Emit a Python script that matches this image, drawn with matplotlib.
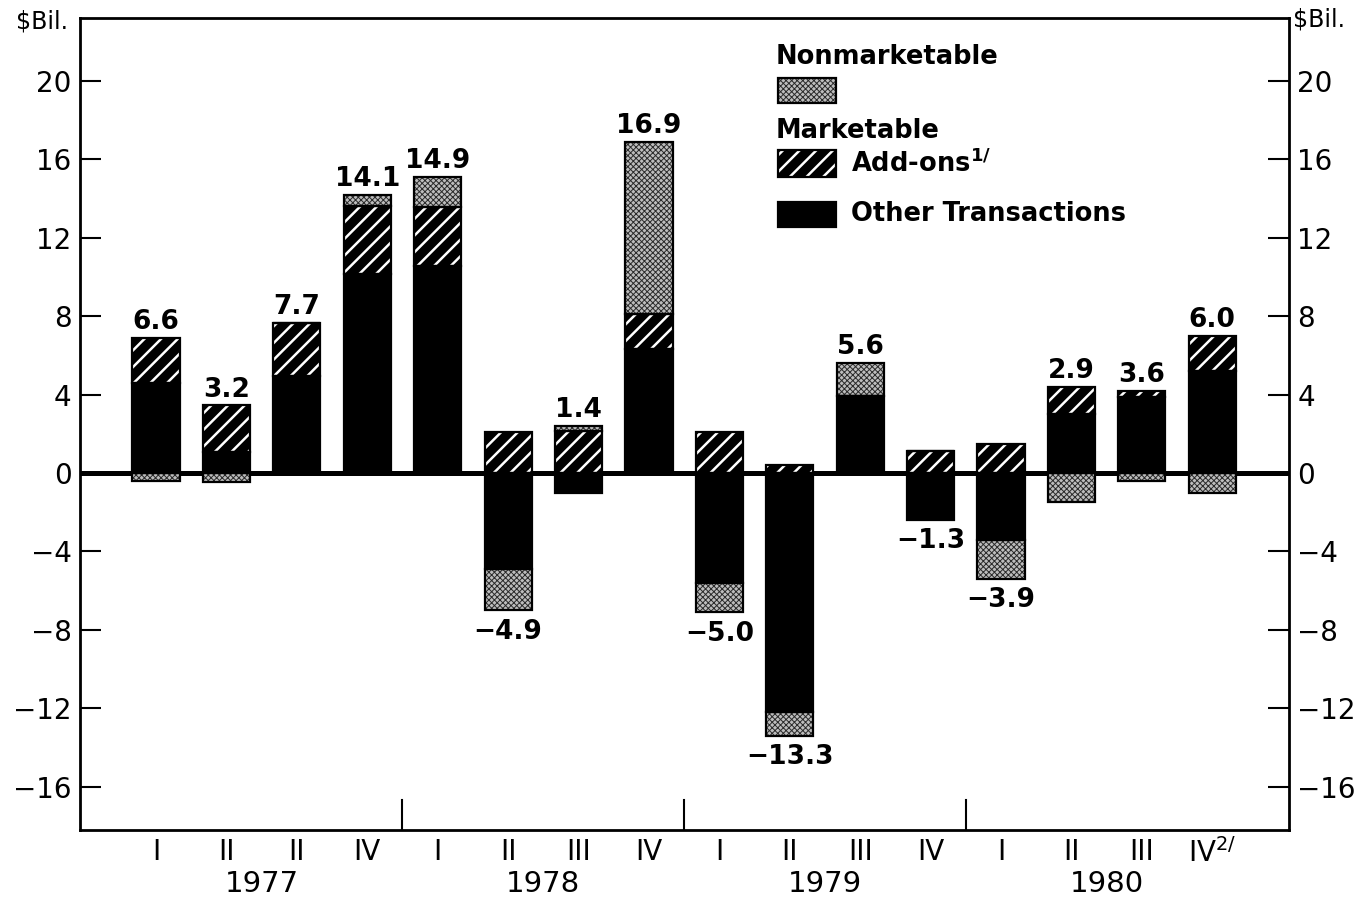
import numpy as np
import matplotlib.pyplot as plt
from matplotlib.patches import Rectangle

plt.rcParams['font.family'] = ['DejaVu Sans']
plt.rcParams['hatch.linewidth'] = 1.8

# quarters (the 1977 third quarter is printed "II" in the original)
quarters = ['I', 'II', 'II', 'IV', 'I', 'II', 'III', 'IV',
            'I', 'II', 'III', 'IV', 'I', 'II', 'III', r'IV$^{2/}$']
years = ['1977', '1978', '1979', '1980']

# $ billions
other = [4.6, 1.05, 4.95, 10.15, 10.55, -4.9, -1.0, 6.3,
         -5.6, -12.2, 3.95, -2.4, -3.4, 3.0, 3.9, 5.2]
addons = [2.3, 2.4, 2.7, 3.45, 3.0, 2.1, 2.15, 1.8,
          2.1, 0.4, 0.0, 1.1, 1.5, 1.4, 0.3, 1.8]
nonmkt = [-0.4, -0.45, 0.0, 0.6, 1.55, -2.1, 0.25, 8.8,
          -1.5, -1.2, 1.65, 0.0, -2.0, -1.5, -0.4, -1.0]
totals = [6.6, 3.2, 7.7, 14.1, 14.9, -4.9, 1.4, 16.9,
          -5.0, -13.3, 5.6, -1.3, -3.9, 2.9, 3.6, 6.0]

W, H = 1358, 899
fig = plt.figure(figsize=(W / 100, H / 100), dpi=100)
ax = fig.add_axes([80 / W, 1 - 830 / H, (1289 - 80) / W, (830 - 18) / H])

x = np.arange(len(quarters))
width = 0.67
STIP = dict(facecolor='#bdbdbd', hatch='xxxxxx', edgecolor='#2a2a2a')

# zero line under the bars
ax.axhline(0, color='black', lw=3.6, zorder=1)

pos_base = np.zeros(len(x))
neg_base = np.zeros(len(x))
styles = [dict(facecolor='black', hatch=None, edgecolor='black'),
          dict(facecolor='black', hatch='//', edgecolor='white'),
          STIP]
for vals, st in zip([other, addons, nonmkt], styles):
    v = np.array(vals)
    bottom = np.where(v >= 0, pos_base, neg_base)
    lw_h = 0.7 if st is STIP else 1.8
    with plt.rc_context({'hatch.linewidth': lw_h}):
        ax.bar(x, v, width, bottom=bottom, lw=0, zorder=2, **st)
    ax.bar(x, v, width, bottom=bottom, fill=False, edgecolor='black', lw=1.6, zorder=3)
    pos_base += np.clip(v, 0, None)
    neg_base += np.clip(v, None, 0)

# value labels
for i, t in enumerate(totals):
    txt = f'{t:.1f}'.replace('-', '\u2212')
    if t >= 0:
        ax.annotate(txt, (x[i], pos_base[i]), xytext=(0, 2), textcoords='offset points',
                    ha='center', va='bottom', fontsize=19, fontweight='bold')
    else:
        ax.annotate(txt, (x[i], neg_base[i]), xytext=(0, -6), textcoords='offset points',
                    ha='center', va='top', fontsize=19, fontweight='bold')

ax.set_xlim(-1.08, 16.09)
ax.set_ylim(-18.2, 23.2)
ax.set_yticks(np.arange(-16, 21, 4))
ax.tick_params(axis='y', which='both', direction='in', length=15, width=1.5,
               labelsize=20, left=True, right=True, labelleft=True, labelright=True, pad=6)
ax.set_xticks(x)
ax.set_xticklabels(quarters)
ax.tick_params(axis='x', length=0, labelsize=20, pad=6)
for s in ax.spines.values():
    s.set_linewidth(2)

# year separators and year labels
for b in [3.5, 7.5, 11.5]:
    ax.axvline(b, ymin=0, ymax=30 / 812, color='black', lw=1.5)
for k, yr in enumerate(years):
    ax.text(4 * k + 1.5, (830 - 884) / 812, yr, transform=ax.get_xaxis_transform(),
            ha='center', va='center', fontsize=21)

# unit labels
fig.text(68 / W, 1 - 22 / H, '$Bil.', ha='right', va='center', fontsize=17)
fig.text(1293 / W, 1 - 20 / H, '$Bil.', ha='left', va='center', fontsize=17)


# legend drawn by hand to keep the original layout
def px(xp, yp):
    return xp / W, 1 - yp / H


def patch(x0, y0, x1, y1, **kw):
    r = Rectangle(px(x0, y1), (x1 - x0) / W, (y1 - y0) / H,
                  transform=fig.transFigure, **kw)
    fig.add_artist(r)


fig.text(*px(776, 57), 'Nonmarketable', ha='left', va='center', fontsize=18.5, fontweight='bold')
with plt.rc_context({'hatch.linewidth': 0.7}):
    patch(778, 78, 836, 103, lw=0, **STIP)
patch(778, 78, 836, 103, fill=False, edgecolor='black', lw=1.6)
fig.text(*px(776, 131), 'Marketable', ha='left', va='center', fontsize=18.5, fontweight='bold')
patch(778, 150, 836, 177, facecolor='black', hatch='//', edgecolor='white', lw=0)
patch(778, 150, 836, 177, fill=False, edgecolor='black', lw=1.6)
fig.text(*px(851, 164), r'Add-ons$^{\mathbf{1/}}$', ha='left', va='center',
         fontsize=18.5, fontweight='bold')
patch(778, 202, 836, 227, facecolor='black', edgecolor='black', lw=1.6)
fig.text(*px(851, 214), 'Other Transactions', ha='left', va='center', fontsize=18.5,
         fontweight='bold')

fig.savefig('out.png', dpi=100)
